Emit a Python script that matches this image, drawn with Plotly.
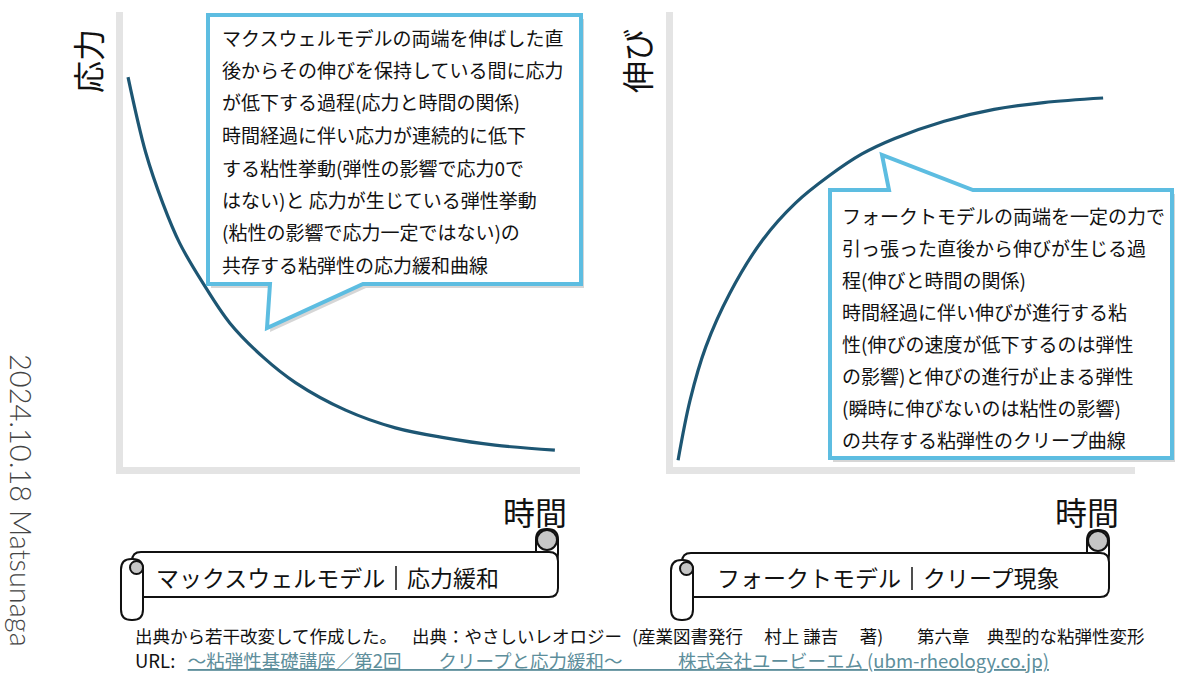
import plotly.graph_objects as go

W, H = 1200, 675

# 応力緩和曲線（左）: 時間 / 応力
relax_time = [0.11, 0.50, 0.87, 1.24, 1.75, 2.34, 3.06, 3.78, 4.87, 5.96, 7.05, 8.14, 9.45]
relax_stress = [8.57, 6.90, 5.80, 4.92, 4.04, 3.16, 2.42, 1.85, 1.25, 0.86, 0.64, 0.48, 0.37]

# クリープ曲線（右）: 時間 / 伸び
creep_time = [0.11, 0.37, 0.71, 1.23, 1.94, 2.65, 3.38, 4.09, 4.80, 5.87, 6.95, 8.02, 9.31]
creep_strain = [0.15, 1.47, 2.64, 3.82, 4.99, 5.80, 6.40, 6.88, 7.22, 7.60, 7.86, 8.01, 8.11]

y_titles = ["応力", "伸び"]
x_title = "時間"
banner_titles = [("マックスウェルモデル", "応力緩和"), ("フォークトモデル", "クリープ現象")]

relax_note = [
    "マクスウェルモデルの両端を伸ばした直",
    "後からその伸びを保持している間に応力",
    "が低下する過程(応力と時間の関係)",
    "時間経過に伴い応力が連続的に低下",
    "する粘性挙動(弾性の影響で応力0で",
    "はない)と 応力が生じている弾性挙動",
    "(粘性の影響で応力一定ではない)の",
    "共存する粘弾性の応力緩和曲線",
]
creep_note = [
    "フォークトモデルの両端を一定の力で",
    "引っ張った直後から伸びが生じる過",
    "程(伸びと時間の関係)",
    "時間経過に伴い伸びが進行する粘",
    "性(伸びの速度が低下するのは弾性",
    "の影響)と伸びの進行が止まる弾性",
    "(瞬時に伸びないのは粘性の影響)",
    "の共存する粘弾性のクリープ曲線",
]

source_parts = [
    "出典から若干改変して作成した。",
    "出典：やさしいレオロジー",
    "(産業図書発行　 村上 謙吉　 著)",
    "第六章　典型的な粘弾性変形",
]
url_label = "URL:\u00a0\u00a0\u00a0"
url_text = "～粘弾性基礎講座／第2回　　クリープと応力緩和～　　　株式会社ユービーエム (ubm-rheology.co.jp)"
stamp = "2024.10.18 Matsunaga"

JP = "Noto Sans CJK JP"
CURVE = "#1d5673"
BLUE = "#5dbde1"
AXIS = "#e4e4e4"


def px(x):
    return x / W


def py(y):
    return 1 - y / H


def poly_path(pts, dx=0, dy=0):
    s = "M " + " L ".join(f"{px(x + dx):.5f},{py(y + dy):.5f}" for x, y in pts)
    return s + " Z"


def round_rect(x0, y0, x1, y1, r):
    p = lambda x, y: f"{px(x):.5f},{py(y):.5f}"
    return (f"M {p(x0 + r, y0)} L {p(x1 - r, y0)} Q {p(x1, y0)} {p(x1, y0 + r)} "
            f"L {p(x1, y1 - r)} Q {p(x1, y1)} {p(x1 - r, y1)} L {p(x0 + r, y1)} "
            f"Q {p(x0, y1)} {p(x0, y1 - r)} L {p(x0, y0 + r)} Q {p(x0, y0)} {p(x0 + r, y0)} Z")


def label(x, y, text, size, anchor="center", **kw):
    return dict(x=px(x), y=py(y), text=text, showarrow=False, xref="paper", yref="paper",
                xanchor=anchor, yanchor="middle", font=dict(size=size, color="#111"), **kw)


fig = go.Figure()

fig.add_trace(go.Scatter(x=relax_time, y=relax_stress, mode="lines",
                         line=dict(color=CURVE, width=3.2, shape="spline", smoothing=1.0),
                         xaxis="x", yaxis="y", hoverinfo="skip"))
fig.add_trace(go.Scatter(x=creep_time, y=creep_strain, mode="lines",
                         line=dict(color=CURVE, width=3.2, shape="spline", smoothing=1.0),
                         xaxis="x2", yaxis="y2", hoverinfo="skip"))

ax_style = dict(range=[0, 10], showgrid=False, zeroline=False, showticklabels=False,
                ticks="", showline=True, linecolor=AXIS, linewidth=7, fixedrange=True)

fig.update_layout(
    width=W, height=H,
    margin=dict(l=0, r=0, t=0, b=0),
    paper_bgcolor="white", plot_bgcolor="rgba(0,0,0,0)",
    showlegend=False,
    font=dict(family=JP, color="#111"),
    xaxis=dict(domain=[px(123), px(580)], anchor="y", **ax_style),
    yaxis=dict(domain=[py(467), py(12)], anchor="x", **ax_style),
    xaxis2=dict(domain=[px(673), px(1135)], anchor="y2", **ax_style),
    yaxis2=dict(domain=[py(467), py(12)], anchor="x2", **ax_style),
)

shapes = []

# 吹き出し
callouts = [
    [(208, 15), (581, 15), (581, 284), (363, 284), (267, 328), (270, 284), (208, 284)],
    [(830, 190), (889, 190), (882, 155), (973, 190), (1172, 190), (1172, 458), (830, 458)],
]
for pts in callouts:
    shapes.append(dict(type="path", xref="paper", yref="paper", path=poly_path(pts, 3, 4),
                       fillcolor="rgba(0,0,0,0.16)", line=dict(width=0), layer="above"))
    shapes.append(dict(type="path", xref="paper", yref="paper", path=poly_path(pts),
                       fillcolor="white", line=dict(color=BLUE, width=4), layer="above"))

# 巻物バナー（L, R, T, B, 区切り線の位置）
banners = [(121, 558, 552, 597, 396), (671, 1109, 553, 597, 912)]
for L, R, T, B, sep in banners:
    w = 22
    ln = dict(color="#111", width=2)
    # 右上の巻き
    shapes.append(dict(type="path", xref="paper", yref="paper",
                       path=round_rect(R - w, T - 23, R, T + 12, 10.5),
                       fillcolor="white", line=ln, layer="above"))
    # 帯
    shapes.append(dict(type="path", xref="paper", yref="paper",
                       path=round_rect(L + w / 2, T, R, B, 9),
                       fillcolor="white", line=ln, layer="above"))
    # 左下の巻き
    shapes.append(dict(type="path", xref="paper", yref="paper",
                       path=round_rect(L, T + 7, L + w, B + 23, 10.5),
                       fillcolor="white", line=ln, layer="above"))
    shapes.append(dict(type="circle", xref="paper", yref="paper",
                       x0=px(L + 9), x1=px(L + 22), y0=py(T + 22), y1=py(T + 9),
                       fillcolor="#c6c6c6", line=ln, layer="above"))
    shapes.append(dict(type="circle", xref="paper", yref="paper",
                       x0=px(R - w + 1), x1=px(R - 1), y0=py(T - 2), y1=py(T - 22),
                       fillcolor="#c6c6c6", line=ln, layer="above"))
    shapes.append(dict(type="line", xref="paper", yref="paper",
                       x0=px(R - w), x1=px(R - w), y0=py(T - 12), y1=py(T),
                       line=ln, layer="above"))
    # 区切り線「｜」
    shapes.append(dict(type="line", xref="paper", yref="paper",
                       x0=px(sep), x1=px(sep), y0=py(T + 14), y1=py(B - 7),
                       line=dict(color="#222", width=1.6), layer="above"))

fig.update_layout(shapes=shapes)

ann = []
for x, title in zip([87, 636], y_titles):
    ann.append(label(x, 61, title, 32, textangle=-90))
for x in [535, 1087]:
    ann.append(label(x, 511, x_title, 32))

for i, t in enumerate(relax_note):
    ann.append(label(220, 37 + 32.5 * i, t, 19, anchor="left"))
for i, t in enumerate(creep_note):
    ann.append(label(840, 215 + 32.1 * i, t, 19, anchor="left"))

for (L, R, T, B, sep), (a, b) in zip(banners, banner_titles):
    ann.append(label(sep - 9, (T + B) / 2 + 2, a, 23, anchor="right"))
    ann.append(label(sep + 9, (T + B) / 2 + 2, b, 23, anchor="left"))

# 出典（1行目は区切りごとに配置）
for x, t in zip([133, 410, 630, 915], source_parts):
    ann.append(label(x, 635, t, 17.5, anchor="left"))
ann.append(label(133, 660, url_label + f"<span style='color:#5d8e9b'><u>{url_text}</u></span>",
                 18.5, anchor="left"))

stamp_ann = label(22, 500, stamp, 29, textangle=90)
stamp_ann["font"] = dict(family="Lato", size=29, color="#444", weight=300)
ann.append(stamp_ann)

fig.update_layout(annotations=ann)

fig.write_html("out.html", config={"displayModeBar": False},
               post_script="document.body.style.margin='0';")
